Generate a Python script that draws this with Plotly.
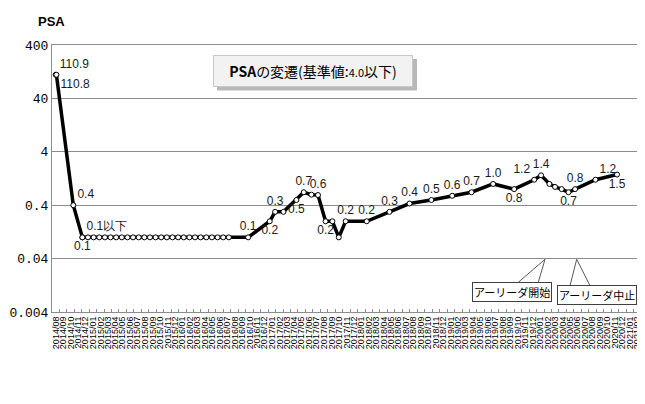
import pandas as pd
import plotly.graph_objects as go

# 検査日とPSA値
dates = [
    "2014-08-01", "2014-08-04", "2014-10-12", "2014-11-18", "2014-11-18",
    "2014-12-11", "2015-01-03", "2015-01-26", "2015-02-18", "2015-03-13",
    "2015-04-05", "2015-04-28", "2015-05-21", "2015-06-13", "2015-07-06",
    "2015-07-29", "2015-08-21", "2015-09-13", "2015-10-06", "2015-10-29",
    "2015-11-21", "2015-12-14", "2016-01-06", "2016-01-29", "2016-02-21",
    "2016-03-15", "2016-04-07", "2016-04-30", "2016-05-23", "2016-06-15",
    "2016-07-08", "2016-09-25", "2016-12-22", "2017-01-13", "2017-02-16",
    "2017-04-10", "2017-05-10", "2017-06-10", "2017-07-07", "2017-08-07",
    "2017-09-04", "2017-09-30", "2017-10-28", "2018-01-22", "2018-04-25",
    "2018-07-16", "2018-10-13", "2019-01-06", "2019-03-26", "2019-06-22",
    "2019-09-16", "2019-12-07", "2020-01-04", "2020-02-07", "2020-03-01",
    "2020-03-28", "2020-04-25", "2020-05-22", "2020-08-13", "2020-11-09",
]
psa = [
    110.9, 110.8, 0.4, 0.1, 0.1,
    0.1, 0.1, 0.1, 0.1, 0.1,
    0.1, 0.1, 0.1, 0.1, 0.1,
    0.1, 0.1, 0.1, 0.1, 0.1,
    0.1, 0.1, 0.1, 0.1, 0.1,
    0.1, 0.1, 0.1, 0.1, 0.1,
    0.1, 0.1, 0.2, 0.3, 0.3,
    0.5, 0.7, 0.63, 0.62, 0.2,
    0.2, 0.1, 0.2, 0.2, 0.3,
    0.43, 0.5, 0.6, 0.7, 1.0,
    0.8, 1.2, 1.45, 1.0, 0.88,
    0.8, 0.7, 0.8, 1.2, 1.5,
]
labels = [
    "110.9", "110.8", "0.4", "0.1", "0.1以下",
    "", "", "", "", "",
    "", "", "", "", "",
    "", "", "", "", "",
    "", "", "", "", "",
    "", "", "", "", "",
    "", "0.1", "0.2", "0.3", "",
    "0.5", "0.7", "", "0.6", "0.2",
    "", "", "0.2", "0.2", "0.3",
    "0.4", "0.5", "0.6", "0.7", "1.0",
    "0.8", "1.2", "1.4", "", "",
    "", "0.7", "0.8", "1.2", "1.5",
]
y_ticks = [0.004, 0.04, 0.4, 4, 40, 400]
y_ticktext = ["0.004", "0.04", "0.4", "4", "40", "400"]

# ラベル位置
pos = []
for t in labels:
    pos.append("top center")
pos[0] = "top right"
pos[1] = "bottom right"
pos[2] = "top right"
pos[3] = "bottom center"
pos[4] = "top right"
for i in [32, 35, 39, 50, 56, 59]:
    pos[i] = "bottom center"
pos[51] = "top left"
pos[58] = "top right"

fig = go.Figure()
fig.add_trace(go.Scatter(
    x=dates, y=psa, mode="lines+markers+text",
    text=labels, textposition=pos,
    textfont=dict(family="Liberation Sans", size=12, color="#1a1a1a"),
    line=dict(color="black", width=3.5),
    marker=dict(size=5, color="white", line=dict(color="black", width=1)),
    cliponaxis=False, showlegend=False,
))

months = pd.date_range("2014-08-01", "2021-02-01", freq="MS")
bounds = pd.date_range("2014-07-16", "2021-02-16", freq="MS") + pd.Timedelta(days=15)

fig.update_xaxes(
    type="date", range=["2014-07-17", "2021-02-15"], automargin=False,
    tickmode="array", tickvals=months, tickformat="%Y/%m",
    tickangle=-90, tickfont=dict(family="Liberation Sans", size=9, color="black"),
    ticks="", showgrid=False, showline=True, linecolor="#8c8c8c", linewidth=1, mirror=True,
    minor=dict(tickmode="array", tickvals=bounds, ticks="inside", ticklen=3,
               tickcolor="#8c8c8c", showgrid=False),
)
fig.update_yaxes(
    type="log", range=[-2.398, 2.602], automargin=False,
    tickmode="array", tickvals=y_ticks, ticktext=y_ticktext,
    tickfont=dict(family="Liberation Mono", size=13, color="black"),
    showgrid=True, gridcolor="#8c8c8c", gridwidth=1,
    showline=True, linecolor="#8c8c8c", linewidth=1, mirror=True,
    ticks="", zeroline=False,
)


def px(v):
    return (v - 52) / 589


def py(v):
    return (312 - v) / 267


# タイトルボックスの影
fig.add_shape(type="rect", xref="paper", yref="paper",
              x0=px(217), x1=px(417), y0=py(90.5), y1=py(59),
              fillcolor="rgba(0,0,0,0.28)", line=dict(width=0), layer="above")

fig.add_annotation(
    x=px(313.3), y=py(70.9), xref="paper", yref="paper",
    xanchor="center", yanchor="middle",
    text="<b>PSA</b>の変遷(基準値:<span style='font-size:11px'>4.0</span>以下)",
    showarrow=False, width=198, height=30, borderpad=0,
    font=dict(family="Noto Sans CJK JP", size=14, color="black"),
    bgcolor="#f2f2f2", bordercolor="#c8c8c8", borderwidth=1,
)

fig.add_annotation(
    x=px(51), y=py(21), xref="paper", yref="paper",
    xanchor="center", yanchor="middle",
    text="<b>PSA</b>", showarrow=False,
    font=dict(family="Liberation Sans", size=13, color="black"),
)

# アーリーダの吹き出し
callouts = [
    ("アーリーダ開始", 511.7, 291.7, (518.3, 282.3), (538.3, 282.3), (545, 259.3)),
    ("アーリーダ中止", 597.2, 295.0, (570, 285.7), (590, 285.7), (576.7, 259.3)),
]
for txt, cx, cy, b1, b2, tip in callouts:
    path = "M %f,%f L %f,%f L %f,%f" % (px(b1[0]), py(b1[1]), px(tip[0]), py(tip[1]), px(b2[0]), py(b2[1]))
    fig.add_shape(type="path", xref="paper", yref="paper", path=path,
                  line=dict(color="#595959", width=1), layer="above")
    fig.add_annotation(
        x=px(cx), y=py(cy), xref="paper", yref="paper",
        xanchor="center", yanchor="middle", text=txt, showarrow=False,
        font=dict(family="Noto Sans CJK JP", size=11, color="black"),
        bgcolor="white", bordercolor="#404040", borderwidth=1, borderpad=1,
    )

# ページ余白(8px)を差し引いた寸法
fig.update_layout(
    width=637, height=396,
    margin=dict(l=44, r=4, t=37, b=92),
    paper_bgcolor="white", plot_bgcolor="white",
)

fig.write_html("out.html")
